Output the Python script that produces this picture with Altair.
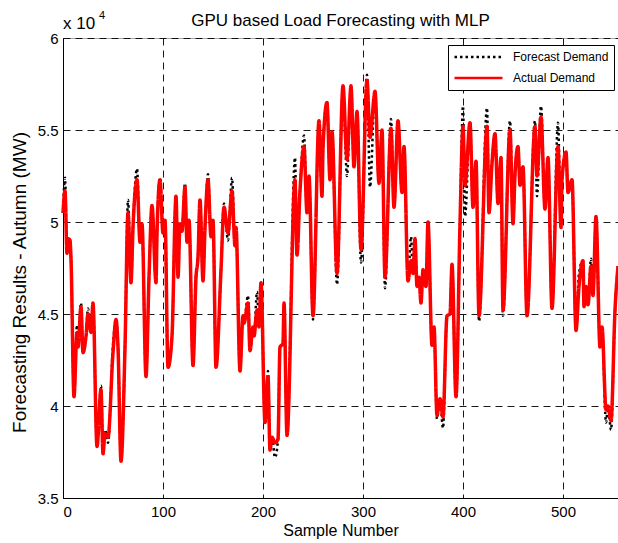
import altair as alt
import pandas as pd

# Sample numbers of the traced vertices
sample = [0, 2, 4, 5, 7, 8, 11, 14, 15, 18, 20, 23, 25, 28, 30, 34, 38, 40, 42, 45,
          50, 53, 55, 58, 62, 65, 68, 70, 74, 77, 79, 83, 86, 89, 93, 94, 97, 100, 102, 105,
          109, 113, 115, 117, 119, 122, 124, 126, 130, 133, 135, 137, 140, 142, 145, 148, 150, 153, 158, 161,
          165, 169, 172, 173, 177, 180, 181, 185, 187, 190, 191, 194, 196, 198, 202, 205, 207, 209, 212, 215,
          217, 220, 221, 224, 232, 234, 237, 241, 244, 246, 250, 256, 259, 260, 264, 267, 269, 274, 280, 284,
          288, 291, 294, 298, 304, 307, 312, 316, 319, 322, 328, 331, 335, 339, 341, 345, 348, 350, 352, 354,
          356, 358, 360, 363, 365, 369, 371, 374, 377, 380, 384, 387, 389, 393, 397, 400, 402, 407, 410, 413,
          416, 424, 426, 429, 432, 435, 438, 440, 447, 450, 452, 455, 457, 460, 464, 472, 474, 478, 482, 485,
          489, 495, 498, 499, 503, 505, 509, 513, 516, 520, 521, 523, 525, 528, 530, 533, 537, 539, 543, 545,
          548, 552, 555]

# Actual demand (x 10^4 MW)
actual = [5.05, 5.17, 4.83, 4.91, 4.90, 4.80, 4.05, 4.40, 4.32, 4.54, 4.29, 4.38, 4.50, 4.40, 4.56, 3.78, 4.09, 3.74, 3.85, 3.83,
          4.29, 4.47, 4.32, 3.70, 4.32, 5.05, 4.67, 4.97, 5.23, 4.89, 4.99, 4.16, 4.70, 5.09, 4.67, 4.94, 5.23, 4.94, 5.01, 4.21,
          4.38, 5.14, 4.70, 4.99, 4.95, 5.19, 4.89, 5.01, 4.22, 4.70, 4.81, 5.12, 4.68, 4.97, 5.23, 4.92, 5.01, 4.21, 4.74, 5.08,
          4.94, 5.17, 4.87, 4.97, 4.19, 4.49, 4.45, 4.56, 4.30, 4.43, 4.38, 4.52, 4.43, 4.67, 3.91, 4.16, 3.76, 3.83, 3.80, 3.82,
          4.32, 4.34, 4.56, 3.84, 5.23, 4.82, 5.17, 5.41, 5.05, 5.25, 4.49, 5.55, 5.14, 5.40, 5.65, 5.23, 5.49, 4.72, 5.74, 5.34,
          5.74, 5.30, 5.60, 4.85, 5.77, 5.46, 5.71, 5.21, 5.50, 4.70, 5.51, 5.08, 5.55, 5.16, 5.41, 4.68, 4.79, 4.72, 4.91, 4.65,
          4.70, 4.56, 4.74, 4.65, 5.00, 4.33, 4.43, 3.95, 4.04, 3.94, 4.49, 4.50, 4.77, 4.05, 4.99, 5.52, 5.20, 5.54, 5.08, 5.33,
          4.49, 5.52, 5.05, 5.32, 5.48, 5.10, 5.35, 4.52, 5.50, 4.99, 5.26, 5.41, 5.20, 5.30, 4.49, 5.52, 5.25, 5.57, 5.07, 5.35,
          4.53, 5.41, 4.97, 5.23, 5.38, 5.16, 5.23, 4.41, 4.65, 4.79, 4.54, 4.65, 4.55, 4.76, 4.60, 5.03, 4.32, 4.43, 3.98, 4.00,
          3.92, 4.52, 4.76]

# Forecast demand (x 10^4 MW)
forecast = [5.05, 5.24, 4.83, 4.91, 4.90, 4.80, 4.05, 4.44, 4.32, 4.56, 4.29, 4.38, 4.53, 4.40, 4.56, 3.78, 4.11, 3.74, 3.87, 3.80,
            4.33, 4.47, 4.32, 3.70, 4.32, 5.12, 4.67, 4.97, 5.29, 4.89, 4.99, 4.16, 4.70, 5.09, 4.67, 4.94, 5.24, 4.94, 5.01, 4.21,
            4.38, 5.14, 4.70, 4.99, 4.95, 5.21, 4.89, 5.01, 4.22, 4.70, 4.81, 5.12, 4.68, 4.97, 5.26, 4.92, 5.01, 4.21, 4.74, 5.10,
            4.90, 5.24, 4.87, 4.97, 4.19, 4.49, 4.45, 4.60, 4.30, 4.43, 4.38, 4.62, 4.43, 4.67, 3.91, 4.19, 3.76, 3.83, 3.72, 3.82,
            4.32, 4.34, 4.56, 3.84, 5.35, 4.82, 5.17, 5.47, 5.05, 5.25, 4.47, 5.55, 5.14, 5.40, 5.65, 5.23, 5.49, 4.66, 5.74, 5.25,
            5.74, 5.30, 5.60, 4.78, 5.80, 5.19, 5.71, 5.21, 5.50, 4.64, 5.56, 5.08, 5.55, 5.16, 5.41, 4.68, 4.92, 4.72, 4.91, 4.65,
            4.70, 4.56, 4.74, 4.65, 5.00, 4.33, 4.43, 3.93, 4.04, 3.88, 4.49, 4.50, 4.77, 4.05, 4.99, 5.63, 5.03, 5.54, 5.08, 5.33,
            4.46, 5.62, 5.05, 5.32, 5.48, 5.10, 5.35, 4.49, 5.55, 4.99, 5.26, 5.41, 5.20, 5.30, 4.49, 5.55, 5.14, 5.63, 5.07, 5.35,
            4.53, 5.54, 4.97, 5.23, 5.38, 5.16, 5.23, 4.41, 4.72, 4.79, 4.54, 4.65, 4.55, 4.80, 4.60, 5.03, 4.32, 4.43, 3.91, 4.00,
            3.87, 4.52, 4.76]

series_names = ["Forecast Demand", "Actual Demand"]
y_ticks = [3.5, 4, 4.5, 5, 5.5, 6]
x_ticks = [0, 100, 200, 300, 400, 500]
title_text = "GPU based Load Forecasting with MLP"

rows = []
for s, f in zip(sample, forecast):
    rows.append({"sample": s, "value": f, "series": series_names[0]})
for s, a in zip(sample, actual):
    rows.append({"sample": s, "value": a, "series": series_names[1]})
df = pd.DataFrame(rows)

FONT = "Liberation Sans"
W, H = 555, 460

x_enc = alt.X("sample:Q", scale=alt.Scale(domain=[0, 555], nice=False, zero=False),
              axis=alt.Axis(values=x_ticks, title="Sample Number", grid=True, ticks=False,
                            labelPadding=6, titlePadding=3, format="d"))
y_enc = alt.Y("value:Q", scale=alt.Scale(domain=[3.5, 6], nice=False, zero=False),
              axis=alt.Axis(values=y_ticks, title="Forecasting Results - Autumn (MW)", grid=True,
                            ticks=False, labelPadding=5, titlePadding=8, labelExpr="datum.value",
                            titleFontSize=19, titleY=244))

leg = alt.Legend(title=None, orient="none", legendX=385, legendY=7,
                 symbolType="stroke", symbolSize=2304, symbolStrokeWidth=2.5,
                 labelFontSize=12, labelFont=FONT, labelColor="black",
                 padding=5, rowPadding=7, labelOffset=9, clipHeight=14,
                 strokeColor="black", fillColor="white")

color_enc = alt.Color("series:N", scale=alt.Scale(domain=series_names, range=["#000000", "#ff0000"]),
                      legend=leg)
dash_enc = alt.StrokeDash("series:N", scale=alt.Scale(domain=series_names, range=[[2.5, 3], [1, 0]]),
                          legend=leg)

base = alt.Chart(df)
fc = base.transform_filter(alt.datum.series == series_names[0]).mark_line(
    strokeWidth=2.5, interpolate="monotone").encode(
    x=x_enc, y=y_enc, color=color_enc, strokeDash=dash_enc)
ac = base.transform_filter(alt.datum.series == series_names[1]).mark_line(
    strokeWidth=3.5, interpolate="monotone").encode(
    x=x_enc, y=y_enc, color=color_enc, strokeDash=dash_enc)

title_mark = alt.Chart(pd.DataFrame({"t": [title_text]})).mark_text(
    align="center", baseline="alphabetic", font=FONT, fontSize=17, color="black").encode(
    x=alt.value(W / 2), y=alt.value(-12), text="t:N")
exp_base = alt.Chart(pd.DataFrame({"t": ["x 10"]})).mark_text(
    align="left", baseline="alphabetic", font=FONT, fontSize=17, color="black").encode(
    x=alt.value(0), y=alt.value(-9), text="t:N")
exp_sup = alt.Chart(pd.DataFrame({"t": ["4"]})).mark_text(
    align="left", baseline="alphabetic", font=FONT, fontSize=11, color="black").encode(
    x=alt.value(36), y=alt.value(-19), text="t:N")

chart = alt.layer(fc, ac, title_mark, exp_base, exp_sup).properties(
    width=W, height=H,
    autosize=alt.AutoSizeParams(type="none"),
    padding={"left": 63, "top": 38, "right": 0, "bottom": 45},
    background="white",
).configure_view(stroke="#aaaaaa", strokeWidth=1).configure_axis(
    labelFont=FONT, labelFontSize=15, labelColor="black",
    titleFont=FONT, titleFontSize=16, titleFontWeight="normal", titleColor="black",
    domainColor="black", domainWidth=1,
    gridColor="black", gridDash=[7, 5], gridWidth=1, gridOpacity=0.9,
)

chart.save("out.html", embed_options={"renderer": "svg", "actions": False})
